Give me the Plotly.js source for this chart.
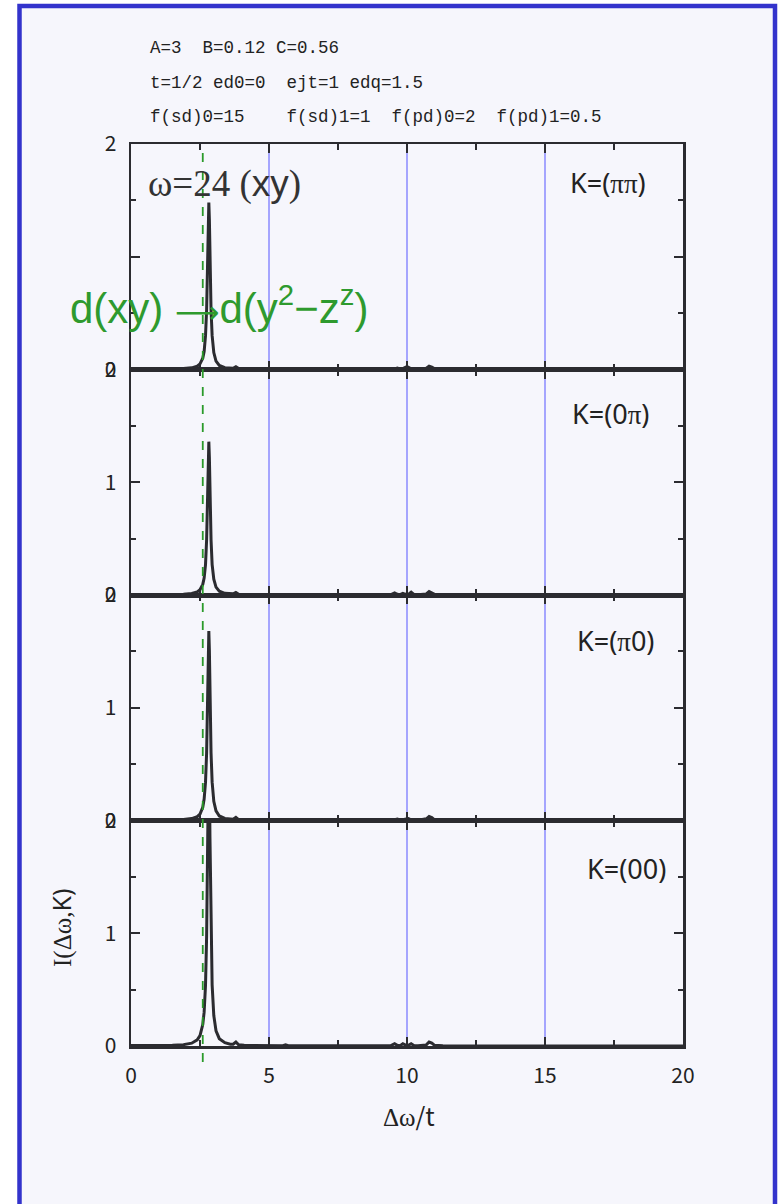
<!DOCTYPE html>
<html>
<head>
<meta charset="utf-8">
<script src="https://cdn.plot.ly/plotly-3.0.1.min.js"></script>
<style>
  html, body { margin: 0; padding: 0; background: #ffffff; }
  #chart { width: 782px; height: 1204px; }
</style>
</head>
<body>
<div id="chart"></div>
<script>
// Energy-loss axis (Δω/t), sampled densely around the main d-d excitation
const dw = [0, 0.5, 1.0, 1.5, 1.9, 2.2, 2.4, 2.5, 2.6, 2.65, 2.7, 2.74, 2.78, 2.8, 2.82,
            2.84, 2.86, 2.9, 2.94, 3.0, 3.08, 3.2, 3.4, 3.6, 3.7, 3.8, 3.9, 4.1, 5.0, 5.5,
            5.6, 5.7, 6.0, 8.0, 9.4, 9.55, 9.65, 9.75, 9.85, 9.95, 10.0, 10.05, 10.15, 10.25,
            10.4, 10.7, 10.8, 10.9, 11.0, 11.3, 13, 16, 20];

// I(Δω,K) for each momentum
const I_pipi = [0.003, 0.003, 0.004, 0.005, 0.008, 0.015, 0.03, 0.05, 0.10, 0.16, 0.30, 0.53, 1.02, 1.33, 1.48,
                1.33, 1.02, 0.53, 0.30, 0.15, 0.075, 0.036, 0.016, 0.009, 0.010, 0.025, 0.008, 0.004, 0.002, 0.003,
                0.008, 0.003, 0.001, 0.001, 0.001, 0.004, 0.012, 0.004, 0.008, 0.020, 0.012, 0.020, 0.006, 0.003,
                0.002, 0.012, 0.030, 0.022, 0.006, 0.002, 0.001, 0.001, 0.001];
const I_0pi  = [0.003, 0.003, 0.004, 0.005, 0.007, 0.014, 0.028, 0.047, 0.094, 0.15, 0.27, 0.49, 0.94, 1.22, 1.36,
                1.22, 0.94, 0.49, 0.27, 0.14, 0.07, 0.034, 0.015, 0.009, 0.010, 0.022, 0.007, 0.004, 0.002, 0.002,
                0.006, 0.002, 0.001, 0.001, 0.002, 0.018, 0.006, 0.003, 0.015, 0.006, 0.010, 0.006, 0.025, 0.005,
                0.002, 0.010, 0.030, 0.020, 0.005, 0.002, 0.001, 0.001, 0.001];
const I_pi0  = [0.003, 0.003, 0.004, 0.005, 0.008, 0.017, 0.034, 0.057, 0.116, 0.19, 0.34, 0.60, 1.16, 1.51, 1.68,
                1.51, 1.16, 0.60, 0.34, 0.17, 0.085, 0.040, 0.018, 0.010, 0.011, 0.028, 0.008, 0.004, 0.002, 0.003,
                0.008, 0.003, 0.001, 0.001, 0.002, 0.006, 0.012, 0.004, 0.006, 0.010, 0.012, 0.018, 0.006, 0.003,
                0.002, 0.015, 0.035, 0.025, 0.006, 0.002, 0.001, 0.001, 0.001];
const I_00   = [0.004, 0.004, 0.005, 0.007, 0.012, 0.025, 0.054, 0.092, 0.19, 0.30, 0.54, 0.97, 1.86, 2.43, 2.70,
                2.43, 1.86, 0.97, 0.54, 0.27, 0.135, 0.065, 0.029, 0.016, 0.016, 0.035, 0.010, 0.006, 0.003, 0.003,
                0.010, 0.003, 0.002, 0.001, 0.002, 0.020, 0.006, 0.003, 0.020, 0.008, 0.010, 0.006, 0.020, 0.005,
                0.002, 0.010, 0.035, 0.025, 0.006, 0.002, 0.001, 0.001, 0.001];

const SERIF = 'Liberation Serif';
const panelLabels = ['K=(<span style="font-family:' + SERIF + '">ππ</span>)',
                     'K=(0<span style="font-family:' + SERIF + '">π</span>)',
                     'K=(<span style="font-family:' + SERIF + '">π</span>0)',
                     'K=(00)'];
const xTickVals = [0, 5, 10, 15, 20];
const xTickText = ['0', '5', '10', '15', '20'];
const xMinorVals = [2.5, 7.5, 12.5, 17.5];
const markerLines = [5, 10, 15];
const transitionX = 2.6;
const headerLines = ['A=3\u00a0\u00a0B=0.12 C=0.56',
                     't=1/2 ed0=0\u00a0\u00a0ejt=1 edq=1.5',
                     'f(sd)0=15\u00a0\u00a0\u00a0\u00a0f(sd)1=1\u00a0\u00a0f(pd)0=2\u00a0\u00a0f(pd)1=0.5'];

// Figure geometry (pixels)
const W = 782, H = 1204;
const L = 131, R = 683, T = 144, B = 1046;
const px = x => (x - L) / (R - L);
const py = y => (B - y) / (B - T);

const BG = '#f6f6fc';
const INK = '#2b2b30';
const tickFont = {family: 'Noto Sans CJK JP, Noto Sans, sans-serif', size: 21, color: '#222'};

const spectra = [I_00, I_pi0, I_0pi, I_pipi];   // bottom to top
const traces = spectra.map((s, i) => ({
  x: dw, y: s, type: 'scatter', mode: 'lines',
  xaxis: i === 0 ? 'x' : 'x' + (i + 1),
  yaxis: i === 0 ? 'y' : 'y' + (i + 1),
  line: {color: INK, width: 3},
  hoverinfo: 'skip', showlegend: false
}));

function xAxis(i) {
  return {
    domain: [0, 1], range: [0, 20], anchor: i === 0 ? 'y' : 'y' + (i + 1),
    matches: i === 0 ? undefined : 'x',
    showgrid: false, zeroline: false,
    showline: true, linecolor: INK, linewidth: 2.5, mirror: 'ticks',
    ticks: 'inside', ticklen: 9, tickwidth: 2, tickcolor: INK,
    tickvals: xTickVals, ticktext: xTickText,
    showticklabels: i === 0, tickfont: tickFont, ticklabelstandoff: 9,
    minor: {tickvals: xMinorVals, ticks: 'inside', ticklen: 6, tickwidth: 2, tickcolor: INK}
  };
}
function yAxis(i) {
  return {
    domain: [i * 0.25, (i + 1) * 0.25], range: [0, 2], anchor: i === 0 ? 'x' : 'x' + (i + 1),
    showgrid: false, zeroline: false,
    showline: true, linecolor: INK, linewidth: 2.5, mirror: 'ticks',
    ticks: 'inside', ticklen: 9, tickwidth: 2, tickcolor: INK,
    tickvals: [0, 1, 2], ticktext: i === 3 ? ['0', '', '2'] : ['0', '1', '2'],
    tickfont: tickFont, ticklabelstandoff: 8,
    minor: {tickvals: [0.5, 1.5], ticks: 'inside', ticklen: 5, tickwidth: 2, tickcolor: INK}
  };
}

const layout = {
  width: W, height: H,
  margin: {l: L, r: W - R, t: T, b: H - B},
  paper_bgcolor: '#ffffff', plot_bgcolor: 'rgba(0,0,0,0)',
  showlegend: false,
  shapes: [
    // framed page
    {type: 'rect', xref: 'paper', yref: 'paper', layer: 'below',
     x0: px(19.5), x1: px(775), y0: py(1215), y1: py(6),
     fillcolor: BG, line: {color: '#3333cc', width: 4.5}},
    // green dashed guide
    {type: 'line', xref: 'x', yref: 'paper', layer: 'above',
     x0: transitionX, x1: transitionX, y0: py(1062), y1: py(150),
     line: {color: '#2a9a2a', width: 1.8, dash: 'dash'}}
  ].concat(markerLines.map(v => ({
    type: 'line', xref: 'x', yref: 'paper', layer: 'below',
    x0: v, x1: v, y0: 0, y1: 1, line: {color: '#7070ff', width: 1.2}
  }))),
  annotations: []
};
for (let i = 0; i < 4; i++) {
  layout[i === 0 ? 'xaxis' : 'xaxis' + (i + 1)] = xAxis(i);
  layout[i === 0 ? 'yaxis' : 'yaxis' + (i + 1)] = yAxis(i);
}

const ann = (text, x, y, font, extra) => Object.assign({
  text, xref: 'paper', yref: 'paper', x: px(x), y: py(y),
  xanchor: 'left', yanchor: 'middle', showarrow: false, font
}, extra || {});

const hdrFont = {family: 'Liberation Mono, monospace', size: 17.5, color: '#222'};
headerLines.forEach((t, k) => layout.annotations.push(ann(t, 148, 48 + k * 34.5, hdrFont)));

const kFont = {family: 'Noto Sans, sans-serif', size: 27, color: '#222'};
const kPos = [[568, 183], [570, 413], [575, 640], [585, 868]];
panelLabels.forEach((t, k) => layout.annotations.push(ann(t, kPos[k][0], kPos[k][1], kFont)));

layout.annotations.push(ann('ω=24 (<span style="font-family:Liberation Sans">xy</span>)', 146, 184,
  {family: SERIF + ', serif', size: 37, color: '#333'}));
layout.annotations.push(ann('d(xy) <span style="font-family:DejaVu Sans;font-size:31px">⟶</span>d(y<sup>2</sup>−z<sup>z</sup>)', 68, 305,
  {family: 'Liberation Sans, Arial, sans-serif', size: 42, color: '#2e9a2e'}));

layout.annotations.push(ann('<span style="font-family:' + SERIF + '">Δω</span>/t', 409, 1115,
  {family: 'Noto Sans CJK JP, Noto Sans, sans-serif', size: 25, color: '#222'}, {xanchor: 'center'}));
layout.annotations.push(ann('<span style="font-family:' + SERIF + '">I(Δω,</span>K)', 61, 928,
  {family: 'Noto Sans, sans-serif', size: 25, color: '#222'}, {xanchor: 'center', textangle: -90}));

Plotly.newPlot('chart', traces, layout, {staticPlot: true, displayModeBar: false});
</script>
</body>
</html>
